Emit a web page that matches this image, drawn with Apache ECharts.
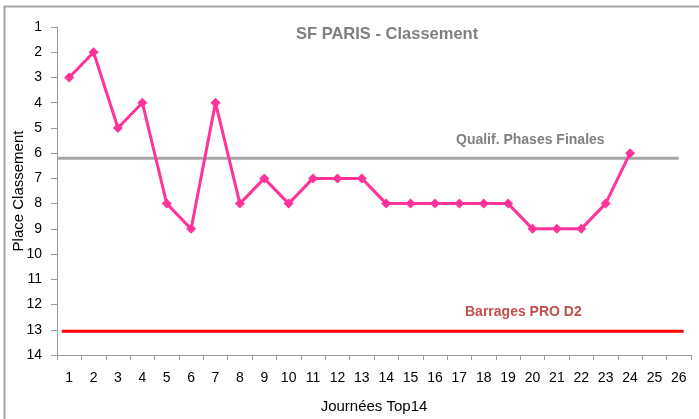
<!DOCTYPE html>
<html>
<head>
<meta charset="utf-8">
<script src="https://cdn.jsdelivr.net/npm/echarts@6/dist/echarts.min.js"></script>
<style>
  html, body { margin: 0; padding: 0; background: #fff; }
  #chart { width: 699px; height: 419px; }
</style>
</head>
<body>
<div id="chart"></div>
<script>
// journées et classement
const journees = ['1','2','3','4','5','6','7','8','9','10','11','12','13','14','15','16','17','18','19','20','21','22','23','24','25','26'];
const classement = [3, 2, 5, 4, 8, 9, 4, 8, 7, 8, 7, 7, 7, 8, 8, 8, 8, 8, 8, 9, 9, 9, 8, 6, null, null];

// lignes de référence (x sur l'axe caché 0.5 - 26.5)
const qualifLine = [[0.5, 6.2], [26, 6.2]];
const barragesLine = [[0.7, 13.06], [26.2, 13.06]];

const chart = echarts.init(document.getElementById('chart'));

const option = {
    animation: false,
    textStyle: { fontFamily: 'Liberation Sans, Arial, sans-serif' },
    grid: { left: 57, top: 27, right: 8, bottom: 64, outerBoundsMode: 'none', containLabel: false },
    graphic: [
        {
            type: 'rect',
            shape: { x: 4.5, y: 6.5, width: 720, height: 440 },
            style: { fill: 'none', stroke: '#a6a6a6', lineWidth: 2 },
            silent: true
        },
        {
            type: 'text', left: 296, top: 26,
            style: { text: 'SF PARIS - Classement', fill: '#808080', font: 'bold 16.5px Liberation Sans, Arial, sans-serif' }
        },
        {
            type: 'text', left: 456, top: 133,
            style: { text: 'Qualif. Phases Finales', fill: '#808080', font: 'bold 14px Liberation Sans, Arial, sans-serif' }
        },
        {
            type: 'text', left: 465, top: 305,
            style: { text: 'Barrages PRO D2', fill: '#c0504d', font: 'bold 14px Liberation Sans, Arial, sans-serif' }
        },
        {
            // titre de l'axe Y
            type: 'text', x: 19, y: 191, rotation: Math.PI / 2,
            style: {
                text: 'Place Classement', fill: '#000',
                font: '15px Liberation Sans, Arial, sans-serif',
                align: 'center', verticalAlign: 'middle'
            }
        }
    ],
    xAxis: [
        {
            type: 'category',
            data: journees,
            boundaryGap: true,
            name: 'Journées Top14',
            nameLocation: 'middle',
            nameGap: 44,
            nameTextStyle: { color: '#000', fontSize: 15 },
            axisLine: { lineStyle: { color: '#999', width: 1 } },
            axisTick: { show: true, length: 5, lineStyle: { color: '#999' } },
            axisLabel: { color: '#000', fontSize: 14, margin: 16, interval: 0 },
            splitLine: { show: false }
        },
        {
            type: 'value',
            min: 0.5,
            max: 26.5,
            show: false
        }
    ],
    yAxis: {
        type: 'value',
        inverse: true,
        min: 1,
        max: 14,
        interval: 1,
        axisLine: { show: true, lineStyle: { color: '#999', width: 1 } },
        axisTick: { show: true, length: 6, lineStyle: { color: '#999' } },
        axisLabel: { color: '#000', fontSize: 14, margin: 15 },
        splitLine: { show: false }
    },
    series: [
        {
            type: 'line',
            xAxisIndex: 1,
            data: qualifLine,
            symbol: 'none',
            lineStyle: { color: '#a6a6a6', width: 3 },
            silent: true
        },
        {
            type: 'line',
            xAxisIndex: 1,
            data: barragesLine,
            symbol: 'none',
            lineStyle: { color: '#ff0000', width: 3 },
            silent: true
        },
        {
            name: 'Classement',
            type: 'line',
            data: classement,
            symbol: 'diamond',
            symbolSize: 10,
            itemStyle: { color: '#ff3399' },
            lineStyle: { color: '#ff3399', width: 3 }
        }
    ]
};

chart.setOption(option);
</script>
</body>
</html>
